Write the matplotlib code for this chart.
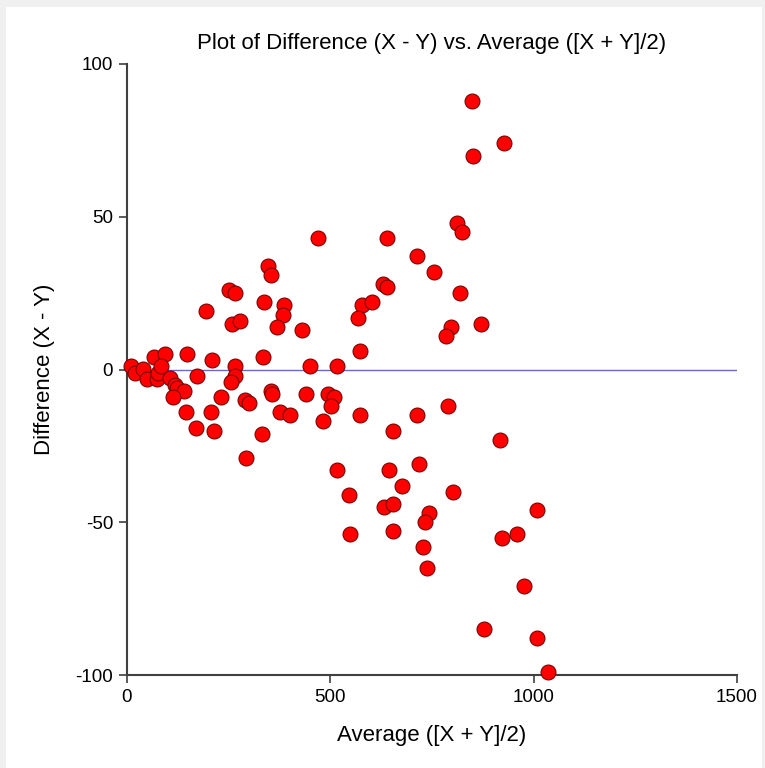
import matplotlib.pyplot as plt
from matplotlib.patches import Rectangle

plt.rcParams['font.family'] = ['Liberation Sans', 'DejaVu Sans']
plt.rcParams['axes.unicode_minus'] = False

# Average ([X + Y]/2) and Difference (X - Y)
avg = [347, 354, 250, 266, 338, 387, 384, 195, 258, 278, 368, 431,
       67, 93, 147, 209, 334, 9, 20, 39, 49, 73, 75, 83, 106, 119, 122,
       141, 114, 172, 266, 266, 256, 231, 291, 301, 355, 356, 146, 207,
       170, 214, 377, 400, 333, 292, 451, 517, 440, 495, 510, 501, 483,
       516, 470,
       849, 927, 852, 812, 824, 639, 714, 756, 629, 640, 820, 578, 603,
       569, 870, 796, 785,
       573, 573, 714, 790, 653, 918, 645, 718, 676, 546, 802, 631, 655,
       742, 734, 1008, 548, 653, 922, 960, 729, 737, 975, 879, 1009, 1036]
diff = [34, 31, 26, 25, 22, 21, 18, 19, 15, 16, 14, 13,
        4, 5, 5, 3, 4, 1, -1, 0.2, -3, -3, -1, 1, -2.7, -5, -6,
        -7, -9, -2, 1, -2, -4, -9, -10, -11, -7, -8, -14, -14,
        -19, -20, -14, -15, -21, -29, 1, 1, -8, -8, -9, -12, -17,
        -33, 43,
        88, 74, 70, 48, 45, 43, 37, 32, 28, 27, 25, 21, 22,
        17, 15, 14, 11,
        6, -15, -15, -12, -20, -23, -33, -31, -38, -41, -40, -45, -44,
        -47, -50, -46, -54, -53, -55, -54, -58, -65, -71, -85, -88, -99]

fig = plt.figure(figsize=(7.65, 7.68), dpi=100, facecolor='#f0f0f0')
fig.patches.append(Rectangle((6 / 765, 0), 756 / 765, 761 / 768,
                             transform=fig.transFigure, facecolor='white',
                             edgecolor='none', zorder=-1))

ax = fig.add_axes([127 / 765, 1 - 675 / 768, 610 / 765, 611 / 768])
ax.set_facecolor('white')

ax.plot([0, 1500], [0, 0], color='#6a6ab8', linewidth=1, zorder=1)
ax.scatter(avg, diff, s=115, facecolor='#ff0000', edgecolor='#7a0000',
           linewidth=0.8, zorder=3, clip_on=False)

ax.set_xlim(0, 1500)
ax.set_ylim(-100, 100)
ax.set_xticks([0, 500, 1000, 1500])
ax.set_yticks([-100, -50, 0, 50, 100])

for side in ['top', 'right']:
    ax.spines[side].set_visible(False)
for side in ['left', 'bottom']:
    ax.spines[side].set_color('#404040')
    ax.spines[side].set_linewidth(1.5)
ax.tick_params(direction='out', length=6, width=1.2, color='#404040',
               labelsize=13.5, pad=4)

ax.set_title('Plot of Difference (X - Y) vs. Average ([X + Y]/2)',
             fontsize=16, pad=11)
ax.set_xlabel('Average ([X + Y]/2)', fontsize=16, labelpad=14)
ax.set_ylabel('Difference (X - Y)', fontsize=16, labelpad=15)

fig.savefig('out.png', dpi=100, facecolor=fig.get_facecolor())
